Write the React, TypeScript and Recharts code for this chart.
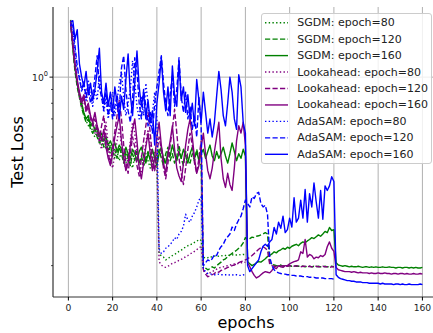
import {
  LineChart,
  Line,
  XAxis,
  YAxis,
  CartesianGrid,
  ReferenceLine,
  Label,
} from 'recharts'

const FONT = '"DejaVu Sans", sans-serif'

// epochs 1..160
const epochs = Array.from({ length: 160 }, (_, i) => i + 1)

const xTicks = [0, 20, 40, 60, 80, 100, 120, 140, 160]
const yTicks = [0.2, 0.3, 0.4, 0.5, 0.6, 0.7, 0.8, 0.9, 1]

const sgdm80 = [
  1.63, 1.32, 1.1, 0.95, 0.85, 0.78, 0.73, 0.69, 0.66, 0.68,
  0.62, 0.6, 0.63, 0.58, 0.56, 0.59, 0.54, 0.57, 0.52, 0.55,
  0.5, 0.53, 0.49, 0.54, 0.51, 0.48, 0.52, 0.49, 0.46, 0.51,
  0.53, 0.48, 0.5, 0.47, 0.52, 0.49, 0.46, 0.5, 0.53, 0.48,
  0.222, 0.217, 0.215, 0.21, 0.213, 0.215, 0.218, 0.22, 0.223, 0.226,
  0.228, 0.232, 0.234, 0.237, 0.239, 0.241, 0.244, 0.246, 0.25, 0.248,
  0.215, 0.213, 0.214, 0.216, 0.215, 0.217, 0.216, 0.217, 0.218, 0.217,
  0.218, 0.219, 0.218, 0.219, 0.22, 0.219, 0.22, 0.219, 0.22, 0.22,
]

const sgdm120 = [
  1.62, 1.28, 1.05, 0.92, 0.84, 0.77, 0.72, 0.68, 0.7, 0.64,
  0.62, 0.65, 0.6, 0.57, 0.6, 0.55, 0.58, 0.53, 0.56, 0.51,
  0.54, 0.5, 0.55, 0.52, 0.48, 0.53, 0.5, 0.47, 0.52, 0.49,
  0.53, 0.48, 0.51, 0.47, 0.5, 0.53, 0.49, 0.46, 0.51, 0.49,
  0.54, 0.5, 0.47, 0.52, 0.55, 0.49, 0.52, 0.48, 0.51, 0.56,
  0.5, 0.47, 0.53, 0.5, 0.48, 0.52, 0.49, 0.54, 0.5, 0.47,
  0.2, 0.196, 0.193, 0.195, 0.198, 0.196, 0.2, 0.203, 0.206, 0.21,
  0.212, 0.216, 0.219, 0.222, 0.225, 0.228, 0.232, 0.236, 0.243, 0.254,
  0.25, 0.252, 0.255, 0.254, 0.257, 0.258, 0.26, 0.262, 0.265, 0.262,
  0.205, 0.202, 0.201, 0.2, 0.2, 0.201, 0.199, 0.2, 0.199, 0.2,
  0.199, 0.2, 0.199, 0.199, 0.2, 0.199, 0.198, 0.199, 0.199, 0.198,
  0.199, 0.198, 0.199, 0.198, 0.198, 0.199, 0.198, 0.198, 0.199, 0.198,
]

const sgdm160 = [
  1.6, 1.3, 1.08, 0.94, 0.86, 0.8, 0.74, 0.7, 0.72, 0.66,
  0.68, 0.63, 0.65, 0.6, 0.62, 0.58, 0.6, 0.56, 0.58, 0.55,
  0.57, 0.53, 0.56, 0.54, 0.51, 0.55, 0.52, 0.5, 0.54, 0.52,
  0.49, 0.53, 0.55, 0.51, 0.48, 0.52, 0.5, 0.54, 0.5, 0.47,
  0.52, 0.55, 0.5, 0.48, 0.53, 0.51, 0.56, 0.52, 0.49, 0.53,
  0.5, 0.54, 0.51, 0.48, 0.52, 0.55, 0.5, 0.53, 0.49, 0.52,
  0.54, 0.5, 0.53, 0.56, 0.51, 0.49, 0.53, 0.5, 0.52, 0.55,
  0.51, 0.48, 0.52, 0.57, 0.53, 0.49, 0.52, 0.5, 0.54, 0.51,
  0.207, 0.203, 0.2, 0.202, 0.205, 0.207, 0.206, 0.209, 0.212, 0.216,
  0.218, 0.221, 0.225, 0.223, 0.227, 0.229, 0.232, 0.23, 0.234, 0.232,
  0.236, 0.238, 0.24, 0.237, 0.242, 0.245, 0.243, 0.247, 0.25, 0.254,
  0.252, 0.256, 0.26, 0.257, 0.262, 0.268, 0.265, 0.277, 0.27, 0.272,
  0.205, 0.201, 0.2, 0.199, 0.2, 0.199, 0.198, 0.199, 0.198, 0.198,
  0.199, 0.198, 0.197, 0.198, 0.198, 0.197, 0.198, 0.197, 0.198, 0.197,
  0.197, 0.198, 0.197, 0.197, 0.198, 0.197, 0.197, 0.196, 0.197, 0.197,
  0.196, 0.197, 0.197, 0.196, 0.197, 0.196, 0.197, 0.196, 0.196, 0.197,
]

const look80 = [
  1.62, 1.3, 1.08, 0.95, 0.84, 0.78, 0.82, 0.9, 0.76, 0.72,
  0.68, 0.62, 0.66, 0.58, 0.54, 0.6, 0.68, 0.56, 0.5, 0.46,
  0.52, 0.58, 0.65, 0.56, 0.49, 0.45, 0.5, 0.58, 0.68, 0.62,
  0.52, 0.46, 0.44, 0.5, 0.57, 0.64, 0.55, 0.47, 0.45, 0.52,
  0.207, 0.201, 0.198, 0.197, 0.199, 0.201, 0.204, 0.205, 0.207, 0.209,
  0.211, 0.213, 0.216, 0.218, 0.221, 0.223, 0.226, 0.229, 0.233, 0.235,
  0.192, 0.188, 0.186, 0.188, 0.19, 0.192, 0.194, 0.196, 0.197, 0.198,
  0.199, 0.2, 0.201, 0.202, 0.203, 0.203, 0.204, 0.205, 0.205, 0.206,
]

const look120 = [
  1.6, 1.32, 1.1, 0.96, 0.86, 0.8, 0.84, 0.74, 0.78, 0.7,
  0.66, 0.7, 0.62, 0.58, 0.66, 0.72, 0.6, 0.52, 0.48, 0.55,
  0.63, 0.72, 0.82, 0.7, 0.56, 0.48, 0.44, 0.52, 0.6, 0.55,
  0.47, 0.43, 0.5, 0.58, 0.66, 0.74, 0.62, 0.5, 0.45, 0.52,
  0.6, 0.54, 0.46, 0.42, 0.48, 0.56, 0.64, 0.76, 0.62, 0.5,
  0.44, 0.4, 0.46, 0.54, 0.62, 0.56, 0.48, 0.44, 0.5, 0.58,
  0.193, 0.186, 0.182, 0.183, 0.185, 0.187, 0.19, 0.189, 0.192, 0.193,
  0.195, 0.197, 0.198, 0.2, 0.201, 0.203, 0.205, 0.207, 0.208, 0.21,
  0.212, 0.215, 0.218, 0.222, 0.226, 0.23, 0.233, 0.235, 0.232, 0.228,
  0.202, 0.2, 0.199, 0.199, 0.2, 0.199, 0.2, 0.199, 0.199, 0.2,
  0.199, 0.199, 0.2, 0.199, 0.198, 0.199, 0.199, 0.198, 0.199, 0.198,
  0.198, 0.199, 0.198, 0.198, 0.199, 0.198, 0.198, 0.197, 0.198, 0.198,
]

const look160 = [
  1.58, 1.35, 1.12, 0.98, 0.88, 0.82, 0.86, 0.76, 0.8, 0.72,
  0.68, 0.74, 0.66, 0.62, 0.58, 0.64, 0.55, 0.5, 0.47, 0.52,
  0.6, 0.66, 0.72, 0.58, 0.5, 0.45, 0.48, 0.56, 0.64, 0.7,
  0.58, 0.46, 0.42, 0.48, 0.55, 0.62, 0.52, 0.45, 0.5, 0.6,
  0.68, 0.56, 0.48, 0.44, 0.52, 0.58, 0.66, 0.54, 0.46, 0.43,
  0.41, 0.48, 0.56, 0.64, 0.7, 0.6, 0.5, 0.44, 0.47, 0.55,
  0.62, 0.52, 0.45, 0.42, 0.46, 0.53, 0.6, 0.68, 0.5, 0.42,
  0.39, 0.44, 0.4, 0.38, 0.46, 0.58, 0.66, 0.62, 0.68, 0.56,
  0.205, 0.198, 0.19, 0.184, 0.18, 0.182, 0.185, 0.188, 0.19, 0.189,
  0.188, 0.192, 0.197, 0.195, 0.2, 0.198, 0.197, 0.2, 0.2, 0.203,
  0.205, 0.207, 0.208, 0.21, 0.225, 0.222, 0.25, 0.215, 0.22, 0.218,
  0.212, 0.215, 0.214, 0.218, 0.216, 0.22, 0.235, 0.245, 0.232, 0.226,
  0.197, 0.193, 0.192, 0.191, 0.19, 0.19, 0.19, 0.189, 0.19, 0.189,
  0.188, 0.189, 0.188, 0.188, 0.188, 0.187, 0.188, 0.187, 0.187, 0.188,
  0.187, 0.187, 0.188, 0.187, 0.187, 0.186, 0.187, 0.187, 0.186, 0.187,
  0.187, 0.186, 0.187, 0.186, 0.186, 0.187, 0.186, 0.186, 0.187, 0.186,
]

const adasam80 = [
  1.56, 1.48, 1.25, 1.05, 1.02, 0.88, 0.94, 0.82, 0.98, 0.85,
  0.78, 0.9, 0.82, 1.02, 0.86, 0.74, 0.84, 0.7, 0.78, 0.88,
  0.72, 0.82, 0.95, 1.05, 0.84, 0.72, 0.8, 0.9, 1.15, 0.96,
  0.78, 0.7, 0.84, 0.72, 0.95, 0.8, 0.66, 0.74, 0.88, 0.7,
  0.23, 0.222, 0.225, 0.232, 0.235, 0.24, 0.245, 0.254, 0.25, 0.262,
  0.268, 0.28, 0.31, 0.295, 0.29, 0.305, 0.315, 0.33, 0.35, 0.36,
  0.195, 0.19, 0.187, 0.186, 0.186, 0.185, 0.185, 0.186, 0.185, 0.185,
  0.185, 0.184, 0.185, 0.185, 0.184, 0.185, 0.184, 0.184, 0.185, 0.184,
]

const adasam120 = [
  1.58, 1.55, 1.3, 1.1, 0.98, 0.9, 0.96, 0.84, 0.92, 0.8,
  0.86, 1.0, 1.2, 0.92, 0.84, 0.76, 0.88, 0.72, 0.8, 0.7,
  0.78, 0.86, 0.74, 1.08, 1.2, 0.9, 0.75, 0.68, 0.82, 1.18,
  1.05, 0.8, 0.7, 0.9, 0.78, 0.66, 0.74, 0.62, 0.8, 0.92,
  1.05, 1.2, 0.95, 0.8, 0.72, 0.86, 1.02, 0.78, 0.9, 1.18,
  0.85, 0.74, 0.88, 0.7, 0.78, 0.64, 0.72, 0.6, 0.84, 0.66,
  0.2, 0.205, 0.21, 0.208, 0.212, 0.22, 0.218, 0.228, 0.235, 0.24,
  0.25, 0.256, 0.262, 0.278, 0.27, 0.285, 0.296, 0.305, 0.325, 0.35,
  0.34, 0.33, 0.36, 0.355, 0.37, 0.374, 0.34, 0.33, 0.335, 0.31,
  0.215, 0.2, 0.193, 0.19, 0.188, 0.187, 0.186, 0.186, 0.185, 0.185,
  0.184, 0.184, 0.183, 0.183, 0.183, 0.182, 0.182, 0.182, 0.181, 0.181,
  0.181, 0.18, 0.18, 0.18, 0.18, 0.179, 0.179, 0.179, 0.179, 0.178,
]

const adasam160 = [
  1.6, 1.62, 1.38, 1.5, 1.12, 1.0, 0.92, 1.05, 0.86, 0.95,
  0.82, 0.9, 1.05, 1.28, 0.88, 0.8, 0.95, 0.78, 0.88, 0.74,
  0.92, 0.8, 0.7, 0.85, 0.76, 0.98, 1.22, 0.86, 0.72, 0.95,
  1.25, 0.92, 0.78, 0.88, 0.7, 0.82, 0.68, 0.75, 0.56, 0.8,
  0.95, 1.18, 0.88, 0.75, 0.92, 0.72, 1.1, 0.85, 0.78, 1.15,
  0.82, 0.92, 0.74, 0.86, 0.7, 0.8, 0.66, 0.98, 0.82, 0.68,
  0.88, 0.74, 0.62, 0.7, 0.6, 0.68, 0.85, 1.05, 0.9, 0.72,
  0.66, 0.8, 1.0, 0.88, 0.7, 0.64, 1.02, 0.92, 0.68, 0.62,
  0.2, 0.19, 0.195, 0.2, 0.205, 0.21, 0.225, 0.236, 0.24, 0.236,
  0.245, 0.25, 0.277, 0.262, 0.29, 0.275, 0.305, 0.265, 0.272, 0.3,
  0.278, 0.357, 0.29, 0.3, 0.35, 0.3, 0.383, 0.29, 0.37, 0.33,
  0.405, 0.345, 0.3, 0.38, 0.297, 0.395, 0.38, 0.395, 0.427, 0.41,
  0.185, 0.181, 0.179, 0.178, 0.177, 0.176, 0.176, 0.175, 0.175, 0.174,
  0.174, 0.174, 0.173, 0.173, 0.173, 0.172, 0.172, 0.172, 0.172, 0.172,
  0.171, 0.172, 0.171, 0.171, 0.171, 0.171, 0.17, 0.171, 0.171, 0.17,
  0.171, 0.17, 0.17, 0.171, 0.17, 0.17, 0.17, 0.17, 0.171, 0.17,
]

const DOTTED = '1.4 2.3'
const DASHED = '5.2 2.3'

const SERIES = [
  { key: 'sgdm80', label: 'SGDM: epoch=80', color: 'green', dash: DOTTED, values: sgdm80 },
  { key: 'sgdm120', label: 'SGDM: epoch=120', color: 'green', dash: DASHED, values: sgdm120 },
  { key: 'sgdm160', label: 'SGDM: epoch=160', color: 'green', dash: undefined, values: sgdm160 },
  { key: 'look80', label: 'Lookahead: epoch=80', color: 'purple', dash: DOTTED, values: look80 },
  { key: 'look120', label: 'Lookahead: epoch=120', color: 'purple', dash: DASHED, values: look120 },
  { key: 'look160', label: 'Lookahead: epoch=160', color: 'purple', dash: undefined, values: look160 },
  { key: 'adasam80', label: 'AdaSAM: epoch=80', color: 'blue', dash: DOTTED, values: adasam80 },
  { key: 'adasam120', label: 'AdaSAM: epoch=120', color: 'blue', dash: DASHED, values: adasam120 },
  { key: 'adasam160', label: 'AdaSAM: epoch=160', color: 'blue', dash: undefined, values: adasam160 },
]

const data = epochs.map((epoch, i) => {
  const row: Record<string, number | undefined> = { epoch }
  SERIES.forEach((s) => {
    row[s.key] = s.values[i]
  })
  return row
})

// log axis tick: long tick + 10^0 label for the decade, short unlabeled minor ticks
// eslint-disable-next-line @typescript-eslint/no-explicit-any
function LogTick({ x, y, payload }: any) {
  const major = payload.value === 1
  return (
    <g>
      <line x1={x - (major ? 3.5 : 2)} x2={x} y1={y} y2={y} stroke="#000" strokeWidth={major ? 0.9 : 0.7} />
      {major && (
        <text x={x - 5} y={y + 3.4} textAnchor="end" fontSize={9.2} fill="#222" fontFamily={FONT}>
          10
          <tspan dy={-4.6} fontSize={6.6}>0</tspan>
        </text>
      )}
    </g>
  )
}

function LegendBox() {
  return (
    <div
      style={{
        position: 'absolute',
        left: 261,
        top: 13,
        width: 171,
        height: 151,
        boxSizing: 'border-box',
        border: '1px solid #cccccc',
        borderRadius: 3,
        background: 'rgba(255,255,255,0.8)',
      }}
    >
      <svg width={171} height={151} style={{ position: 'absolute', left: -1, top: -1 }}>
        {SERIES.map((s, i) => {
          const cy = 9.7 + i * 16.45
          return (
            <g key={s.key}>
              <line x1={4} x2={27} y1={cy} y2={cy} stroke={s.color} strokeWidth={1.4} strokeDasharray={s.dash} />
              <text x={36.3} y={cy} dominantBaseline="central" fontSize={11} fill="#222" fontFamily={FONT}>
                {s.label}
              </text>
            </g>
          )
        })}
      </svg>
    </div>
  )
}

export default function App() {
  return (
    <div
      style={{
        position: 'absolute',
        left: 0,
        top: 0,
        width: 433,
        height: 333,
        overflow: 'hidden',
        background: '#fff',
      }}
    >
      <LineChart
        width={460}
        height={333}
        data={data}
        margin={{ top: 7, right: 20, bottom: 0, left: 0 }}
        style={{ fontFamily: FONT }}
      >
        <CartesianGrid horizontal={false} stroke="#b0b0b0" strokeWidth={1} />
        <ReferenceLine y={1} stroke="#b0b0b0" strokeWidth={1} />
        <XAxis
          dataKey="epoch"
          type="number"
          domain={[-6.95, 167.95]}
          ticks={xTicks}
          allowDataOverflow
          height={36}
          tickSize={3.5}
          tickMargin={4.2}
          tick={{ fontSize: 9.2, fill: '#222', fontFamily: FONT }}
          tickLine={{ stroke: '#000' }}
          axisLine={{ stroke: '#333' }}
        >
          <Label
            content={() => (
              <text x={246} y={327.5} textAnchor="middle" fontSize={16} fill="#000" fontFamily={FONT}>
                epochs
              </text>
            )}
          />
        </XAxis>
        <XAxis
          xAxisId="top"
          orientation="top"
          type="number"
          domain={[-6.95, 167.95]}
          height={0}
          tick={false}
          tickLine={false}
          axisLine={{ stroke: '#333' }}
        />
        <YAxis
          scale="log"
          type="number"
          domain={[0.153, 1.82]}
          ticks={yTicks}
          interval={0}
          allowDataOverflow
          width={53}
          tickSize={0}
          tickMargin={0}
          tickLine={false}
          tick={<LogTick />}
          axisLine={{ stroke: '#333' }}
        >
          <Label
            content={() => (
              <text
                x={22.5}
                y={152}
                transform="rotate(-90 22.5 152)"
                textAnchor="middle"
                fontSize={16}
                fill="#000"
                fontFamily={FONT}
              >
                Test Loss
              </text>
            )}
          />
        </YAxis>
        {SERIES.map((s) => (
          <Line
            key={s.key}
            dataKey={s.key}
            stroke={s.color}
            strokeWidth={1.4}
            strokeDasharray={s.dash}
            strokeLinejoin="round"
            dot={false}
            activeDot={false}
            isAnimationActive={false}
          />
        ))}
      </LineChart>
      <LegendBox />
    </div>
  )
}
